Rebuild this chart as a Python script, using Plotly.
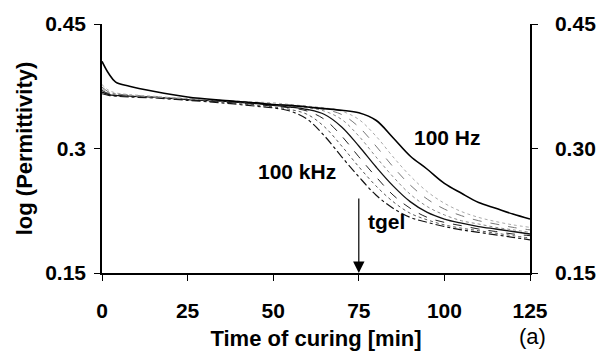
import plotly.graph_objects as go

time_min = [0, 2, 4, 8, 15, 25, 35, 45, 50, 55, 60, 65, 70, 75, 80, 85, 90, 95, 100, 105, 110, 115, 120, 125]

eps_100kHz = [0.366, 0.364, 0.363, 0.362, 0.361, 0.358, 0.355, 0.351, 0.349, 0.345, 0.335, 0.315, 0.290, 0.266, 0.244, 0.228, 0.217, 0.211, 0.206, 0.202, 0.199, 0.196, 0.193, 0.190]
eps_c2 = [0.368, 0.365, 0.364, 0.363, 0.362, 0.359, 0.356, 0.352, 0.350, 0.347, 0.341, 0.326, 0.303, 0.278, 0.255, 0.236, 0.222, 0.214, 0.208, 0.204, 0.201, 0.198, 0.195, 0.192]
eps_c3 = [0.370, 0.366, 0.365, 0.364, 0.362, 0.359, 0.356, 0.353, 0.351, 0.349, 0.345, 0.335, 0.315, 0.290, 0.266, 0.244, 0.228, 0.217, 0.211, 0.207, 0.203, 0.200, 0.197, 0.195]
eps_c4 = [0.368, 0.365, 0.364, 0.363, 0.362, 0.359, 0.357, 0.354, 0.352, 0.350, 0.347, 0.341, 0.326, 0.303, 0.278, 0.255, 0.236, 0.223, 0.215, 0.210, 0.206, 0.203, 0.200, 0.197]
eps_c5 = [0.372, 0.367, 0.366, 0.364, 0.362, 0.360, 0.357, 0.355, 0.353, 0.351, 0.349, 0.345, 0.335, 0.315, 0.290, 0.266, 0.245, 0.230, 0.220, 0.213, 0.209, 0.205, 0.202, 0.199]
eps_c6 = [0.374, 0.368, 0.366, 0.364, 0.362, 0.360, 0.358, 0.355, 0.354, 0.352, 0.350, 0.347, 0.341, 0.326, 0.303, 0.278, 0.256, 0.239, 0.227, 0.219, 0.213, 0.209, 0.205, 0.202]
eps_c7 = [0.377, 0.370, 0.367, 0.365, 0.363, 0.360, 0.358, 0.356, 0.355, 0.353, 0.351, 0.349, 0.345, 0.335, 0.315, 0.290, 0.267, 0.248, 0.234, 0.224, 0.217, 0.212, 0.208, 0.205]
eps_100Hz = [0.405, 0.390, 0.380, 0.375, 0.369, 0.362, 0.358, 0.355, 0.353, 0.352, 0.350, 0.348, 0.346, 0.343, 0.334, 0.313, 0.291, 0.275, 0.258, 0.246, 0.235, 0.228, 0.221, 0.215]

series = [eps_100kHz, eps_c2, eps_c3, eps_c4, eps_c5, eps_c6, eps_c7, eps_100Hz]
styles = [
    dict(color="#111111", width=1.2, dash="dashdot"),
    dict(color="#555555", width=1.0, dash="dot"),
    dict(color="#222222", width=1.0, dash="dash"),
    dict(color="#111111", width=1.3, dash="solid"),
    dict(color="#888888", width=1.0, dash="dot"),
    dict(color="#777777", width=1.0, dash="dash"),
    dict(color="#aaaaaa", width=1.0, dash="dot"),
    dict(color="#000000", width=1.6, dash="solid"),
]

x_ticks = [0, 25, 50, 75, 100, 125]
y_ticks = [0.15, 0.3, 0.45]
y_left_labels = ["0.15", "0.3", "0.45"]
y_right_labels = ["0.15", "0.30", "0.45"]

FONT = "Liberation Sans, Arial, sans-serif"
fig = go.Figure()
for vals, st in zip(series, styles):
    fig.add_trace(go.Scatter(x=time_min, y=vals, mode="lines",
                             line=dict(shape="spline", smoothing=1.0, **st),
                             showlegend=False, hoverinfo="skip"))
# invisible trace to activate right axis
fig.add_trace(go.Scatter(x=[0], y=[0.3], yaxis="y2", mode="markers",
                         marker=dict(opacity=0), showlegend=False, hoverinfo="skip"))

tickfont = dict(family=FONT, size=21, color="black", weight="bold")
titlefont = dict(family=FONT, size=22, color="black", weight="bold")
fig.update_layout(
    width=608, height=360,
    margin=dict(l=102, r=75, t=19, b=87),
    paper_bgcolor="white", plot_bgcolor="white",
    xaxis=dict(range=[0, 125], tickvals=x_ticks, ticks="outside", ticklen=6,
               tickcolor="black", showline=True, linecolor="black", linewidth=1.5,
               showgrid=False, zeroline=False, tickfont=tickfont, ticklabelstandoff=12,
               title=dict(text="Time of curing [min]", standoff=10, font=titlefont)),
    yaxis=dict(range=[0.15, 0.45], tickvals=y_ticks, ticktext=y_left_labels,
               ticks="outside", ticklen=6, tickcolor="black", showline=True,
               linecolor="black", linewidth=1.5, showgrid=False, zeroline=False,
               tickfont=tickfont, ticklabelstandoff=4,
               title=dict(text="log (Permittivity)", standoff=6, font=titlefont)),
    yaxis2=dict(range=[0.15, 0.45], tickvals=y_ticks, ticktext=y_right_labels,
                overlaying="y", side="right", ticks="outside", ticklen=6,
                tickcolor="black", showline=True, linecolor="black", linewidth=1.5,
                showgrid=False, zeroline=False, tickfont=tickfont, ticklabelstandoff=13),
)

lab = dict(family=FONT, size=21, color="black", weight="bold")
fig.add_annotation(x=101, y=0.313, text="100 Hz", showarrow=False, font=lab)
fig.add_annotation(x=57, y=0.272, text="100 kHz", showarrow=False, font=lab)
fig.add_annotation(x=83, y=0.2126, text="tgel", showarrow=False, font=lab)
fig.add_annotation(x=75, y=0.15, ax=0, ay=-76, text="", showarrow=True,
                   arrowhead=2, arrowsize=1.9, arrowwidth=1.2, arrowcolor="black")
fig.add_annotation(x=1.007, y=-0.256, xref="paper", yref="paper", text="(a)",
                   showarrow=False, xanchor="center", yanchor="middle",
                   font=dict(family=FONT, size=22, color="black"))

fig.write_html("out.html")
